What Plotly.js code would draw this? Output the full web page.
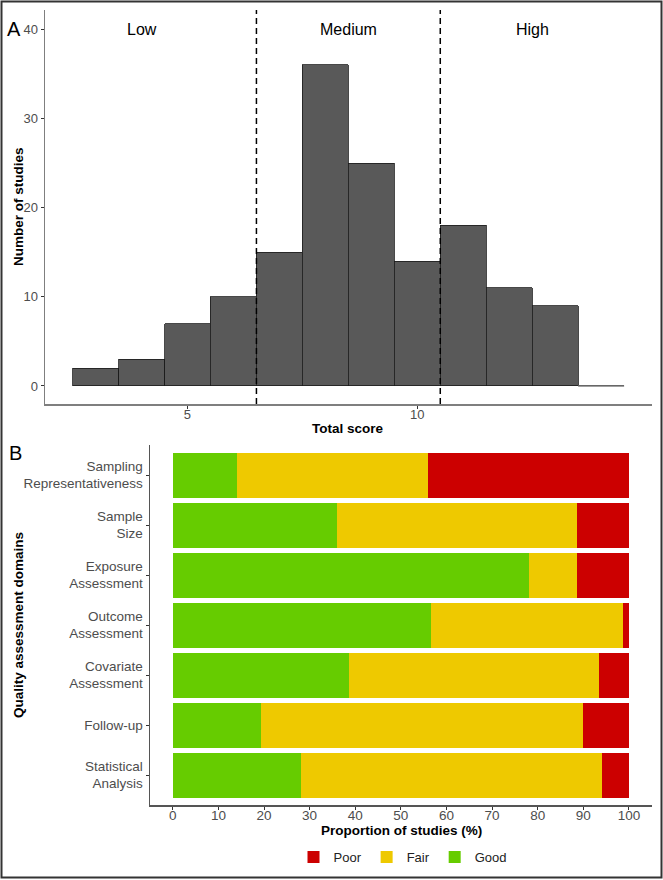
<!DOCTYPE html>
<html><head><meta charset="utf-8">
<script src="https://cdn.plot.ly/plotly-3.0.1.min.js"></script>
<style>html,body{margin:0;padding:0;background:#fff}</style>
</head><body><div id="chart" style="width:663px;height:880px"></div>
<script>
// Panel A: histogram of total quality scores
const scores = [3, 4, 5, 6, 7, 8, 9, 10, 11, 12, 13, 14];
const counts = [2, 3, 7, 10, 15, 36, 25, 14, 18, 11, 9, 0];
const cutoffs = [6.5, 10.5];
const bandLabels = ['Low', 'Medium', 'High'];
const bandCenters = [4, 8.5, 12.5];
const bandLabelY = 40;
const histTicks = [5, 10];
const histYTicks = [0, 10, 20, 30, 40];

// Panel B: quality assessment domains (% of studies)
const domains = ['Sampling<br>Representativeness', 'Sample<br>Size', 'Exposure<br>Assessment',
  'Outcome<br>Assessment', 'Covariate<br>Assessment', 'Follow-up', 'Statistical<br>Analysis'];
const good = [14.0, 36.0, 78.0, 56.7, 38.7, 19.3, 28.0];
const fair = [42.0, 52.7, 10.7, 42.0, 54.7, 70.7, 66.0];
const poor = [44.0, 11.3, 11.3, 1.3, 6.7, 10.0, 6.0];
const propTicks = [0, 10, 20, 30, 40, 50, 60, 70, 80, 90, 100];

const W = 663, H = 880;
const FONT = 'Liberation Sans, Arial, sans-serif';
const px = v => v / W;
const py = v => 1 - v / H;

const binW = scores[1] - scores[0];
const zx = [], zy = [];
scores.forEach((s, i) => { if (counts[i] === 0) { zx.push(s - binW / 2, s + binW / 2, null); zy.push(0, 0, null); } });

const ghost = {type: 'scatter', mode: 'markers', marker: {opacity: 0, size: 1}, showlegend: false, hoverinfo: 'skip'};

const traces = [
  {type: 'bar', x: scores, y: counts, width: binW, xaxis: 'x', yaxis: 'y', showlegend: false,
   marker: {color: '#595959', line: {color: '#1a1a1a', width: 0.8}}, hoverinfo: 'x+y'},
  {type: 'scatter', mode: 'lines', x: zx, y: zy, xaxis: 'x', yaxis: 'y', showlegend: false,
   line: {color: '#7f7f7f', width: 1.5}, hoverinfo: 'skip'},
  Object.assign({}, ghost, {x: scores, y: counts, xaxis: 'x3', yaxis: 'y'}),
  {type: 'bar', orientation: 'h', name: 'Good', y: domains, x: good, width: 0.9, xaxis: 'x2', yaxis: 'y2',
   marker: {color: '#66CC00'}},
  {type: 'bar', orientation: 'h', name: 'Fair', y: domains, x: fair, width: 0.9, xaxis: 'x2', yaxis: 'y2',
   marker: {color: '#EEC900'}},
  {type: 'bar', orientation: 'h', name: 'Poor', y: domains, x: poor, width: 0.9, xaxis: 'x2', yaxis: 'y2',
   marker: {color: '#CC0000'}},
  Object.assign({}, ghost, {x: good, y: domains, xaxis: 'x4', yaxis: 'y2'})
];

const shapes = cutoffs.map(c => ({type: 'line', xref: 'x', yref: 'y domain', x0: c, x1: c, y0: 0, y1: 1,
  line: {color: '#000', width: 1.5, dash: '6px,4px'}}));
shapes.push({type: 'rect', xref: 'paper', yref: 'paper', x0: px(1.5), x1: px(661.5), y0: py(877.5), y1: py(1.5),
  line: {color: '#333', width: 2}, fillcolor: 'rgba(0,0,0,0)'});

const titleFont = {size: 13.5, color: '#000', family: FONT, weight: 'bold'};
const annotations = bandLabels.map((t, i) => ({text: t, x: bandCenters[i], y: bandLabelY, xref: 'x', yref: 'y',
  showarrow: false, font: {size: 16, color: '#000', family: FONT}}));
annotations.push({text: 'A', xref: 'paper', yref: 'paper', x: px(14.5), y: py(29), xanchor: 'center', yanchor: 'middle',
  showarrow: false, font: {size: 20, color: '#000', family: FONT}});
annotations.push({text: 'B', xref: 'paper', yref: 'paper', x: px(15), y: py(453), xanchor: 'center', yanchor: 'middle',
  showarrow: false, font: {size: 20, color: '#000', family: FONT}});
annotations.push({text: 'Total score', xref: 'paper', yref: 'paper', x: px(348.4), y: py(428),
  xanchor: 'center', yanchor: 'middle', showarrow: false, font: titleFont});
annotations.push({text: 'Number of studies', xref: 'paper', yref: 'paper', x: px(18), y: py(207), textangle: -90,
  xanchor: 'center', yanchor: 'middle', showarrow: false, font: titleFont});
annotations.push({text: 'Proportion of studies (%)', xref: 'paper', yref: 'paper', x: px(401), y: py(830),
  xanchor: 'center', yanchor: 'middle', showarrow: false, font: titleFont});
annotations.push({text: 'Quality assessment domains', xref: 'paper', yref: 'paper', x: px(18), y: py(625), textangle: -90,
  xanchor: 'center', yanchor: 'middle', showarrow: false, font: titleFont});

const tickFont = {size: 13, color: '#4d4d4d', family: FONT};
const tickFontB = {size: 13.5, color: '#4d4d4d', family: FONT};
const histXRange = [1.9, 15.1];
const propRange = [-5, 105];

const layout = {
  width: W, height: H, margin: {l: 0, r: 0, t: 0, b: 0}, paper_bgcolor: '#fff', plot_bgcolor: '#fff',
  font: {family: FONT}, barmode: 'stack', showlegend: true,
  xaxis: {domain: [px(45), px(651.7)], range: histXRange, tickvals: histTicks, ticks: 'outside', ticklen: 3,
    tickcolor: '#333', showline: true, linecolor: '#7f7f7f', linewidth: 1.5, showgrid: false, zeroline: false,
    showticklabels: false, anchor: 'y'},
  xaxis3: {domain: [px(45), px(651.7)], range: histXRange, tickvals: histTicks, ticks: '', overlaying: 'x',
    anchor: 'free', position: py(404.5), showline: false, showgrid: false, zeroline: false, tickfont: tickFont},
  yaxis: {domain: [py(404), py(10)], range: [-2.02, 42.16], tickvals: histYTicks, ticks: 'outside', ticklen: 3,
    tickcolor: '#333', showline: true, linecolor: '#7f7f7f', linewidth: 1.5, showgrid: false, zeroline: false,
    tickfont: tickFont, anchor: 'x'},
  xaxis2: {domain: [px(150), px(651.7)], range: propRange, tickvals: propTicks, ticks: 'outside', ticklen: 3,
    tickcolor: '#333', showline: true, linecolor: '#555', linewidth: 1.5, showgrid: false, zeroline: false,
    showticklabels: false, anchor: 'y2'},
  xaxis4: {domain: [px(150), px(651.7)], range: propRange, tickvals: propTicks, ticks: '', overlaying: 'x2',
    anchor: 'free', position: py(805.5), showline: false, showgrid: false, zeroline: false, tickfont: tickFontB},
  yaxis2: {domain: [py(805), py(445)], type: 'category', categoryorder: 'array', categoryarray: domains,
    range: [6.6, -0.6], ticks: 'outside', ticklen: 3, tickcolor: '#333', showline: true, linecolor: '#555',
    linewidth: 1.5, showgrid: false, zeroline: false, tickfont: tickFontB, anchor: 'x2'},
  legend: {orientation: 'h', x: px(403), xanchor: 'center', y: py(857), yanchor: 'middle', traceorder: 'reversed',
    font: {size: 13, color: '#222', family: FONT}, bgcolor: 'rgba(0,0,0,0)'},
  shapes: shapes, annotations: annotations
};

Plotly.newPlot('chart', traces, layout, {displayModeBar: false, staticPlot: true});
</script></body></html>
